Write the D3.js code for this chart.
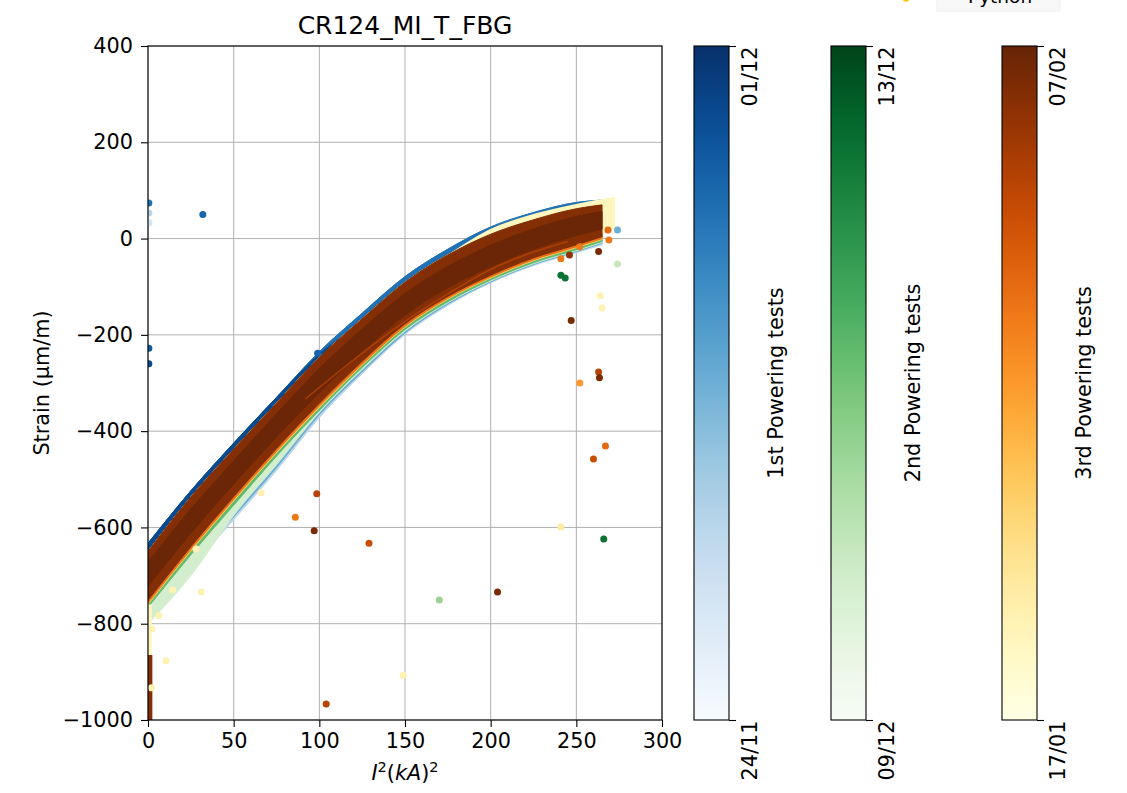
<!DOCTYPE html>
<html>
<head>
<meta charset="utf-8">
<script src="https://cdn.jsdelivr.net/npm/d3@7"></script>
<style>
body { margin: 0; background: #fff; }
</style>
</head>
<body>
<div id="chart"></div>
<script>
// band edges, strain in um/m at these I^2 values
var bandX = [0, 25, 50, 75, 100, 125, 150, 175, 200, 225, 250, 265]
var blueTop = [-633, -524, -425, -330, -235, -155, -79, -22, 24, 54, 75, 80]
var navyTop = [-633, -524, -425, -330, -240, -175, -105, -50, -5, 30, 55, 65]
var brownTop = [-650, -537, -438, -342, -247, -167, -91, -34, 9, 39, 62, 70]
var brownBottom = [-751, -640, -536, -436, -342, -255, -177, -120, -76, -40, -13, 4]
var innerTop = [-672, -562, -462, -364, -270, -188, -114, -58, -14, 20, 46, 56]
var innerLow = [-722, -612, -510, -412, -320, -235, -159, -102, -58, -22, 6, 20]
var orangeLow = [-757, -646, -542, -442, -348, -261, -182, -124, -80, -44, -17, 0]
var yellowLow = [-760, -649, -545, -445, -351, -263, -184, -126, -82, -46, -19, -2]
var greenLow = [-766, -657, -554, -452, -357, -268, -189, -131, -86, -50, -23, -6]
var lightGreenLow = [-800, -700, -575, -470, -361, -272, -192, -133, -88, -52, -25, -8]
var midBlueLow = [-780, -676, -578, -476, -366, -277, -196, -136, -90, -54, -27, -10]
var lightBlueLow = [-790, -685, -584, -482, -372, -281, -199, -139, -92, -56, -29, -13]

// pale yellow tests sticking out at the right end
var endX = [150, 175, 200, 225, 250, 265, 272]
var endTop = [-97, -36, 18, 49, 70, 80, 84]
var endLow = [-170, -115, -70, -32, -4, 12, 22]

// orange streak inside the brown band
var streak = [[92, -333], [125, -238], [150, -172], [175, -115], [200, -64], [225, -28], [245, -6]]

// points piled on I^2 = 0
var zeroBrown = [[0.8, -865], [0.8, -1000]]
var zeroYellow = [[0.8, -760], [0.8, -866]]

// scattered points: [I^2, strain, position on the date colour scale]
var blueOut = [[0.5, 74, 0.75], [0.5, 53, 0.3], [0.5, 33, 0.18], [32, 50, 0.8], [0.5, -228, 0.85],
    [0.5, -260, 0.9], [99, -238, 0.8], [274, 18, 0.5]]
var greenOut = [[241, -76, 0.85], [243.5, -82, 0.85], [274, -53, 0.25], [170, -751, 0.4], [266, -624, 0.85]]
var orangeOut = [[241, -42, 0.6], [246, -34, 0.9], [252, -17, 0.6], [263, -27, 0.95], [269, -3, 0.6],
    [268.5, 18, 0.65], [264, -119, 0.15], [265, -144, 0.15], [247, -170, 0.95], [263, -277, 0.8],
    [263.5, -289, 0.95], [252, -300, 0.5], [267, -431, 0.65], [260, -458, 0.75], [241, -599, 0.2],
    [86, -579, 0.6], [98.5, -530, 0.8], [97, -607, 0.95], [104, -967, 0.8], [129, -633, 0.75],
    [204, -734, 0.95], [149, -907, 0.15], [66, -528, 0.15], [28, -645, 0.15], [14.4, -730, 0.15],
    [31, -734, 0.15], [6.4, -783, 0.15], [10.5, -877, 0.15], [2.3, -811, 0.15], [2, -933, 0.15]]

var xTicks = [0, 50, 100, 150, 200, 250, 300]
var yTicks = [-1000, -800, -600, -400, -200, 0, 200, 400]

var colorbars = [
    {name: '1st Powering tests', first: '24/11', last: '01/12', cmap: 'blue'},
    {name: '2nd Powering tests', first: '09/12', last: '13/12', cmap: 'green'},
    {name: '3rd Powering tests', first: '17/01', last: '07/02', cmap: 'orange'}
]

var cmaps = {blue: d3.interpolateBlues, green: d3.interpolateGreens, orange: d3.interpolateYlOrBr}

var tests = [
    {cmap: 'blue', t: 0.28, hi: blueTop, lo: lightBlueLow},
    {cmap: 'blue', t: 0.5, hi: blueTop, lo: midBlueLow},
    {cmap: 'blue', t: 0.75, hi: blueTop, lo: brownBottom},
    {cmap: 'blue', t: 0.9, hi: navyTop, lo: brownBottom},
    {cmap: 'green', t: 0.2, hi: brownTop, lo: lightGreenLow},
    {cmap: 'green', t: 0.55, hi: brownTop, lo: greenLow},
    {cmap: 'orange', t: 0.35, hi: brownTop, lo: yellowLow},
    {cmap: 'orange', t: 0.62, hi: brownTop, lo: orangeLow},
    {cmap: 'orange', t: 0.93, hi: brownTop, lo: brownBottom},
    {cmap: 'orange', t: 0.99, hi: innerTop, lo: innerLow}
]

var font = "'DejaVu Sans', sans-serif"
var fs = 20.8
var W = 1127, H = 793
var plot = {left: 148, right: 662, top: 46, bottom: 720}

var svg = d3.select('#chart').append('svg')
    .attr('width', W)
    .attr('height', H)
    .attr('font-family', font)

var x = d3.scaleLinear().domain([0, 300]).range([plot.left, plot.right])
var y = d3.scaleLinear().domain([-1000, 400]).range([plot.bottom, plot.top])

svg.append('clipPath').attr('id', 'clip')
    .append('rect')
    .attr('x', plot.left).attr('y', plot.top)
    .attr('width', plot.right - plot.left).attr('height', plot.bottom - plot.top)

// grid
var grid = svg.append('g').attr('stroke', '#b0b0b0').attr('stroke-width', 1)
grid.selectAll('.gx').data(xTicks).enter().append('line')
    .attr('x1', d => x(d)).attr('x2', d => x(d))
    .attr('y1', plot.top).attr('y2', plot.bottom)
grid.selectAll('.gy').data(yTicks).enter().append('line')
    .attr('y1', d => y(d)).attr('y2', d => y(d))
    .attr('x1', plot.left).attr('x2', plot.right)

var data = svg.append('g').attr('clip-path', 'url(#clip)')

var area = d3.area()
    .x(d => x(d[0]))
    .y0(d => y(d[1]))
    .y1(d => y(d[2]))
    .curve(d3.curveMonotoneX)

tests.forEach(function (tst) {
    var pts = bandX.map((v, i) => [v, tst.lo[i], tst.hi[i]])
    data.append('path')
        .attr('d', area(pts))
        .attr('fill', cmaps[tst.cmap](tst.t))
        .attr('stroke', cmaps[tst.cmap](tst.t))
        .attr('stroke-width', 1)
        .attr('stroke-linejoin', 'round')
    if (tst.t === 0.62) {
        // pale end of the 3rd campaign drawn before the brown ones
        var endPts = endX.map((v, i) => [v, endLow[i], endTop[i]])
        data.append('path')
            .attr('d', area(endPts))
            .attr('fill', cmaps.orange(0.12))
            .attr('stroke', cmaps.orange(0.12))
            .attr('stroke-width', 2)
            .attr('stroke-linejoin', 'round')
    }
})

var line = d3.line().x(d => x(d[0])).y(d => y(d[1])).curve(d3.curveMonotoneX)

data.append('path')
    .attr('d', line(streak))
    .attr('fill', 'none')
    .attr('stroke', cmaps.orange(0.78))
    .attr('stroke-width', 1.6)
    .attr('opacity', 0.7)

data.append('path')
    .attr('d', line(zeroYellow))
    .attr('stroke', cmaps.orange(0.12))
    .attr('stroke-width', 5)
data.append('path')
    .attr('d', line(zeroBrown))
    .attr('stroke', cmaps.orange(0.93))
    .attr('stroke-width', 6)

function dots(list, cmap) {
    data.selectAll(null).data(list).enter().append('circle')
        .attr('cx', d => x(d[0]))
        .attr('cy', d => y(d[1]))
        .attr('r', 3.5)
        .attr('fill', d => cmaps[cmap](d[2]))
}
dots(blueOut, 'blue')
dots(greenOut, 'green')
dots(orangeOut, 'orange')

// spines
svg.append('rect')
    .attr('x', plot.left).attr('y', plot.top)
    .attr('width', plot.right - plot.left).attr('height', plot.bottom - plot.top)
    .attr('fill', 'none')
    .attr('stroke', '#000')
    .attr('stroke-width', 1.1)

var xAxis = svg.append('g')
    .attr('transform', `translate(0, ${plot.bottom})`)
    .call(d3.axisBottom(x).tickValues(xTicks).tickSize(7).tickPadding(6).tickFormat(d3.format('d')))
var yAxis = svg.append('g')
    .attr('transform', `translate(${plot.left}, 0)`)
    .call(d3.axisLeft(y).tickValues(yTicks).tickSize(7).tickPadding(8).tickFormat(d3.format('d')))
;[xAxis, yAxis].forEach(function (g) {
    g.select('.domain').remove()
    g.attr('font-family', font).attr('font-size', fs)
    g.selectAll('text').attr('fill', '#000')
    g.selectAll('line').attr('stroke', '#000').attr('stroke-width', 1.1)
})

svg.append('text')
    .attr('x', (plot.left + plot.right) / 2)
    .attr('y', 34)
    .attr('text-anchor', 'middle')
    .attr('font-size', 25)
    .text('CR124_MI_T_FBG')

svg.append('text')
    .attr('transform', `translate(49, ${(plot.top + plot.bottom) / 2}) rotate(-90)`)
    .attr('text-anchor', 'middle')
    .attr('font-size', fs)
    .text('Strain (\u00b5m/m)')

var xl = svg.append('text')
    .attr('x', (plot.left + plot.right) / 2)
    .attr('y', 780)
    .attr('text-anchor', 'middle')
    .attr('font-size', fs)
xl.append('tspan').attr('font-style', 'italic').text('I')
xl.append('tspan').attr('font-size', 14.5).attr('dy', -8).text('2')
xl.append('tspan').attr('dy', 8).text('(')
xl.append('tspan').attr('font-style', 'italic').text('kA')
xl.append('tspan').text(')')
xl.append('tspan').attr('font-size', 14.5).attr('dy', -8).text('2')

// colorbars
var barX = [694, 831, 1002]
var barW = 35
var defs = svg.append('defs')
colorbars.forEach(function (cb, i) {
    var grad = defs.append('linearGradient')
        .attr('id', 'grad' + i)
        .attr('x1', 0).attr('y1', 1).attr('x2', 0).attr('y2', 0)
    d3.range(0, 1.0001, 0.05).forEach(function (t) {
        grad.append('stop').attr('offset', t).attr('stop-color', cmaps[cb.cmap](t))
    })
    var bx = barX[i]
    svg.append('rect')
        .attr('x', bx).attr('y', plot.top)
        .attr('width', barW).attr('height', plot.bottom - plot.top)
        .attr('fill', `url(#grad${i})`)
        .attr('stroke', '#000')
        .attr('stroke-width', 1.1)

    var cbScale = d3.scaleLinear().domain([0, 1]).range([plot.bottom, plot.top])
    var ax = svg.append('g')
        .attr('transform', `translate(${bx + barW}, 0)`)
        .call(d3.axisRight(cbScale).tickValues([0, 1]).tickSize(7)
            .tickFormat(d => d === 0 ? cb.first : cb.last))
    ax.select('.domain').remove()
    ax.attr('font-family', font).attr('font-size', fs)
    ax.selectAll('line').attr('stroke', '#000').attr('stroke-width', 1.1)
    ax.selectAll('text')
        .attr('x', null).attr('dy', null)
        .attr('fill', '#000')
        .attr('text-anchor', 'end')
        .attr('transform', 'translate(28, 0) rotate(-90)')

    svg.append('text')
        .attr('transform', `translate(${bx + barW + 54}, ${(plot.top + plot.bottom) / 2}) rotate(-90)`)
        .attr('text-anchor', 'middle')
        .attr('font-size', fs)
        .text(cb.name)
})

// legend box of another axes, cut at the top of the figure
svg.append('rect')
    .attr('x', 937).attr('y', -30)
    .attr('width', 123).attr('height', 41)
    .attr('fill', '#f8f8f8')
    .attr('stroke', '#f0f0f0')
svg.append('circle')
    .attr('cx', 906).attr('cy', -2).attr('r', 3.5)
    .attr('fill', '#ffbf00')
svg.append('text')
    .attr('x', 968).attr('y', 3)
    .attr('font-size', 18.5)
    .text('Python')
</script>
</body>
</html>
